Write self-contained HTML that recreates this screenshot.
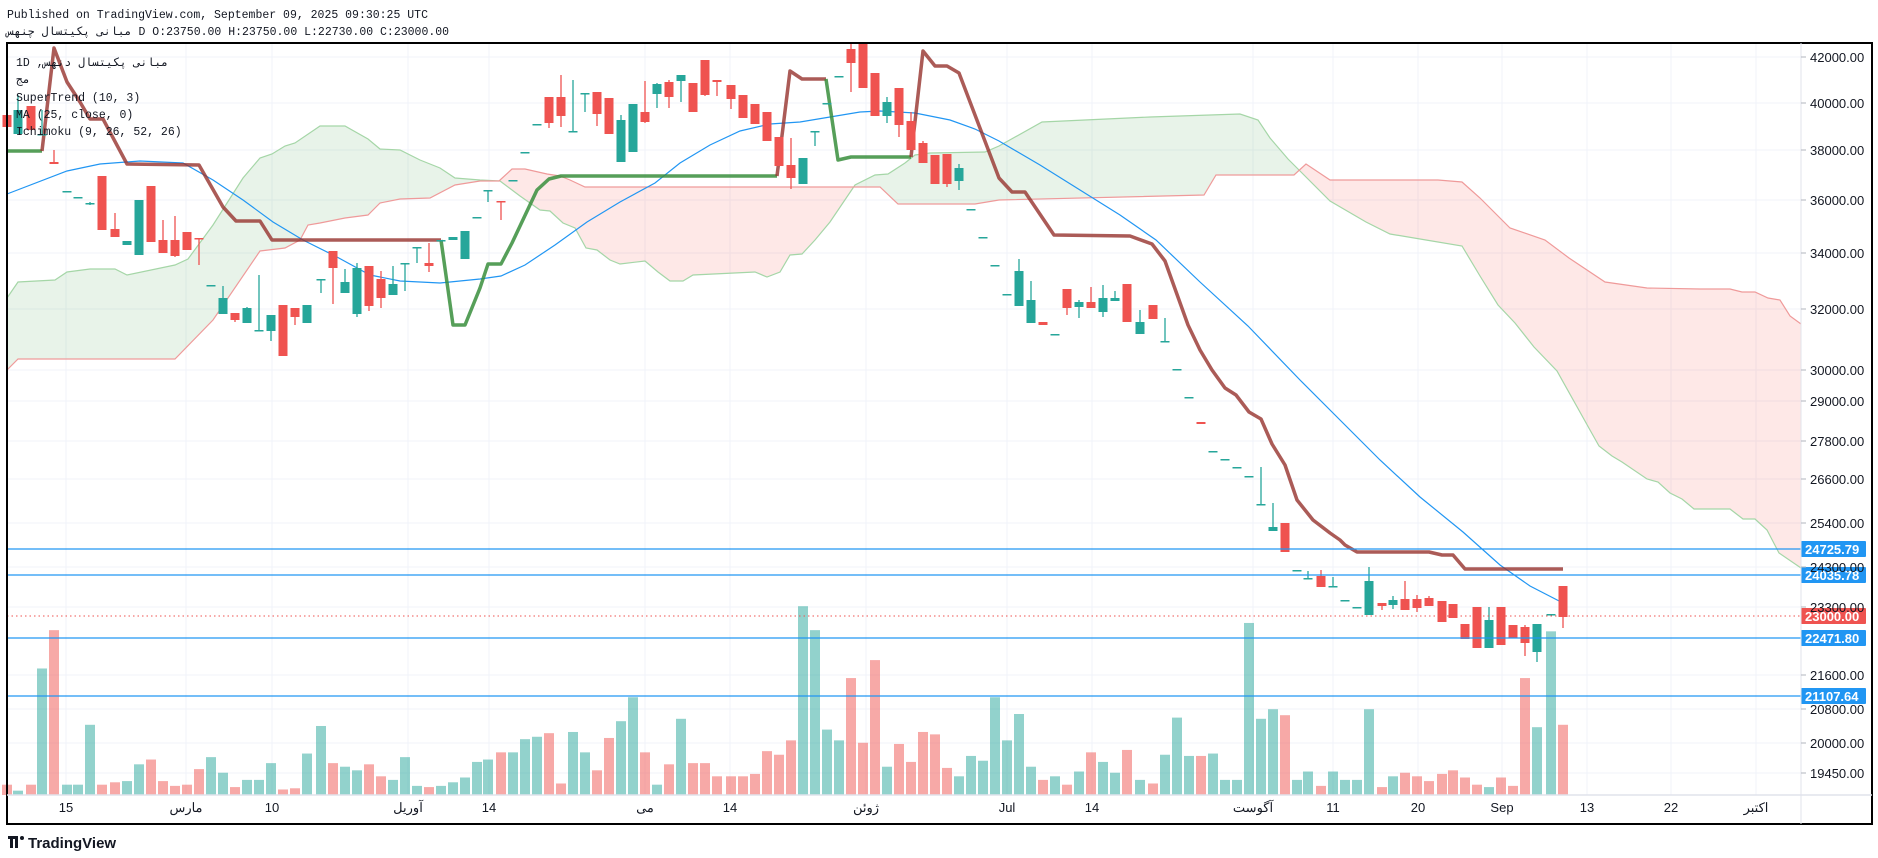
<!DOCTYPE html>
<html><head><meta charset="utf-8">
<style>
html,body{margin:0;padding:0;background:#fff;}
svg{display:block;}
text{font-family:"Liberation Sans","Noto Sans CJK SC",sans-serif;}
text.mono,.mono text{font-family:"Liberation Mono","DejaVu Sans Mono","Noto Sans CJK SC",monospace;}
</style></head>
<body>
<svg id="s" width="1878" height="858" viewBox="0 0 1878 858" xmlns="http://www.w3.org/2000/svg">
<rect x="0" y="0" width="1878" height="858" fill="#fff"/>
<g id="grid"></g>
<g id="cloud"></g>
<g id="vol"></g>
<g id="lines"></g>
<g id="candles"></g>
<g id="over"></g>
<rect x="7" y="43" width="1865" height="781" fill="none" stroke="#000" stroke-width="2"/>
<line x1="1801" y1="43" x2="1801" y2="824" stroke="#e0e3eb" stroke-width="1"/>
<line x1="7" y1="795" x2="1872" y2="795" stroke="#e0e3eb" stroke-width="1.5"/>
<text class="mono" x="7" y="18" font-size="11.5" fill="#131722">Published on TradingView.com, September 09, 2025 09:30:25 UTC</text>
<text class="mono" x="7" y="35" font-size="11.5" fill="#131722">مبانی    پکیتسال    چنهس D O:23750.00 H:23750.00 L:22730.00 C:23000.00</text>
<g class="mono" font-size="11.5" fill="#131722">
<text x="16" y="66">1D ,مبانی    پکیتسال    دنهس</text>
<text x="16" y="83">مج</text>
<text x="16" y="101">SuperTrend (10, 3)</text>
<text x="16" y="118">MA (25, close, 0)</text>
<text x="16" y="135">Ichimoku (9, 26, 52, 26)</text>
</g>
<g id="axis"></g>
<g transform="translate(8,836)">
<rect x="0" y="0" width="7" height="3" fill="#131722"/>
<rect x="2" y="0" width="3" height="12" fill="#131722"/>
<rect x="7" y="0" width="3" height="12" fill="#131722"/>
<circle cx="14" cy="2" r="2" fill="#131722"/>
<text x="20" y="12" font-size="15" font-weight="bold" fill="#131722">TradingView</text>
</g>
</svg>
<script>
(function(){
const NS="http://www.w3.org/2000/svg";
function el(p,t,a,txt){const e=document.createElementNS(NS,t);for(const k in a)e.setAttribute(k,a[k]);if(txt!==undefined)e.textContent=txt;document.getElementById(p).appendChild(e);return e;}
const priceLabels=[["42000.00",57],["40000.00",103],["38000.00",150],["36000.00",200],["34000.00",253],["32000.00",309],["30000.00",370],["29000.00",401],["27800.00",441],["26600.00",479],["25400.00",523],["24300.00",567],["23300.00",607],["21600.00",675],["20800.00",709],["20000.00",743],["19450.00",773]];
priceLabels.forEach(p=>{el("grid","line",{x1:7,y1:p[1],x2:1801,y2:p[1],stroke:"#f0f3fa","stroke-width":1});
el("axis","line",{x1:1801,y1:p[1],x2:1806,y2:p[1],stroke:"#b2b5be"});
el("axis","text",{x:1810,y:p[1]+5,"font-size":13,fill:"#131722"},p[0]);});
const dates=[["15",66],["مارس",186],["10",272],["آوریل",408],["14",489],["می",645],["14",730],["ژوئن",866],["Jul",1007],["14",1092],["آگوست",1253],["11",1333],["20",1418],["Sep",1502],["13",1587],["22",1671],["اکتبر",1756]];
dates.forEach(d=>{el("grid","line",{x1:d[1],y1:43,x2:d[1],y2:795,stroke:"#f0f3fa","stroke-width":1});
el("axis","text",{x:d[1],y:812,"font-size":13,fill:"#131722","text-anchor":"middle"},d[0]);});
const A=[[7,298],[18,282],[55,280],[67,272],[90,269],[115,269],[127,275],[175,265],[188,259],[213,225],[243,178],[260,158],[272,154],[285,146],[295,143],[320,126],[345,126],[368,139],[380,149],[400,150],[420,160],[440,168],[455,178],[480,180],[500,181],[520,196],[540,210],[550,211],[563,223],[575,228],[586,248],[597,250],[610,260],[620,264],[645,261],[658,272],[670,281],[683,281],[693,275],[755,272],[767,277],[780,272],[790,255],[802,254],[815,240],[830,222],[855,185],[875,175],[888,174],[905,163],[915,155],[930,153],[985,152],[999,146],[1042,122],[1150,117],[1240,114],[1258,120],[1270,138],[1288,159],[1297,168],[1330,201],[1366,222],[1390,234],[1426,240],[1462,246],[1480,276],[1498,305],[1515,323],[1534,347],[1557,371],[1590,430],[1599,446],[1612,456],[1622,462],[1647,479],[1658,482],[1670,493],[1682,499],[1694,509],[1730,509],[1743,519],[1755,519],[1767,530],[1779,553],[1801,568]];
const B=[[7,370],[18,359],[175,359],[213,320],[260,251],[285,248],[300,240],[308,225],[320,223],[345,218],[368,215],[380,203],[400,199],[430,198],[455,185],[480,181],[499,181],[512,169],[525,169],[547,174],[560,176],[570,180],[585,187],[880,187],[898,204],[975,204],[999,200],[1204,195],[1216,175],[1294,175],[1306,164],[1330,180],[1438,180],[1462,182],[1480,198],[1510,228],[1545,240],[1569,258],[1605,282],[1647,288],[1700,289],[1730,289],[1742,292],[1755,292],[1768,298],[1780,300],[1790,316],[1801,324]];
function ip(P,x){for(let i=1;i<P.length;i++){if(x<=P[i][0]){const a=P[i-1],b=P[i];const t=(x-a[0])/((b[0]-a[0])||1);return a[1]+t*(b[1]-a[1]);}}return P[P.length-1][1];}
let run=null,tp=[],bt=[];
function flush(){if(tp.length>1){const pts=tp.concat(bt.slice().reverse()).map(p=>p[0]+","+p[1].toFixed(1)).join(" ");el("cloud","polygon",{points:pts,fill:run?"rgba(67,160,71,0.12)":"rgba(244,67,54,0.12)"});}}
for(let x=7;x<=1801;x+=1){const a=ip(A,x),b=ip(B,x);const g=a<b;
if(run!==null&&g!==run){tp.push([x,a]);bt.push([x,b]);flush();tp=[];bt=[];}
run=g;tp.push([x,a]);bt.push([x,b]);}
flush();
el("cloud","polyline",{points:A.map(p=>p.join(",")).join(" "),fill:"none",stroke:"#a5d6a7","stroke-width":1.2});
el("cloud","polyline",{points:B.map(p=>p.join(",")).join(" "),fill:"none",stroke:"#ef9a9a","stroke-width":1.2});
const C=[[7,115,127,0,0,"r"],[18,110,134,95,134,"g"],[31,106,130,0,0,"r"],[42,134,135,110,135,"g"],[54,162,164,150,164,"r"],[67,191,192,0,0,"g"],[78,197,198,0,0,"g"],[90,203,204,202,205,"g"],[102,176,230,0,0,"r"],[115,229,237,213,237,"r"],[127,241,245,0,0,"g"],[139,200,255,0,0,"g"],[151,186,242,0,0,"r"],[163,240,253,220,253,"r"],[175,240,256,216,257,"r"],[187,232,250,0,0,"r"],[199,238,239,238,265,"r"],[211,285,286,0,0,"g"],[223,298,314,286,314,"g"],[235,313,320,313,322,"r"],[247,308,323,307,323,"g"],[259,330,331,275,331,"g"],[271,315,331,315,341,"g"],[283,305,356,0,0,"r"],[295,308,317,308,325,"r"],[307,305,323,0,0,"g"],[321,279,280,279,293,"g"],[333,251,268,251,304,"r"],[345,282,293,269,293,"g"],[357,268,314,263,317,"g"],[369,266,306,266,311,"r"],[381,279,298,271,308,"r"],[393,284,295,266,295,"g"],[405,263,264,263,291,"g"],[417,247,248,247,263,"g"],[429,263,266,243,272,"r"],[441,240,241,0,0,"g"],[453,237,240,0,0,"g"],[465,231,259,0,0,"g"],[477,217,218,0,0,"g"],
[488,190,191,190,202,"g"],[501,201,202,201,220,"r"],[513,180,181,0,0,"g"],[525,152,153,0,0,"g"],[537,124,125,0,0,"g"],[549,97,123,97,128,"r"],[561,97,116,75,127,"r"],[573,131,132,80,131,"g"],[585,93,94,93,112,"g"],[597,92,114,92,126,"r"],[609,98,134,0,0,"r"],[621,120,162,115,162,"g"],[633,104,152,0,0,"g"],[645,112,122,81,123,"r"],[657,84,94,83,108,"g"],[669,82,97,80,108,"r"],[681,75,81,75,102,"g"],[693,83,112,0,0,"r"],[705,60,95,60,96,"r"],[717,80,82,80,96,"r"],[731,85,99,85,109,"r"],[743,95,118,0,0,"r"],[755,104,124,0,0,"r"],[767,112,141,0,0,"r"],[779,137,166,0,0,"r"],[791,165,178,138,189,"r"],[803,158,184,0,0,"g"],[815,131,132,131,146,"g"],[827,103,104,0,0,"g"],[839,76,77,0,0,"g"],[851,49,63,43,92,"r"],[863,43,88,0,0,"r"],[875,73,116,0,0,"r"],[887,102,116,97,123,"g"],[899,88,125,88,137,"r"],[911,121,150,112,150,"r"],[923,143,163,141,163,"r"],[935,155,184,0,0,"r"],[947,154,184,154,187,"r"],[959,168,181,164,190,"g"],[971,209,210,0,0,"g"],[983,237,238,0,0,"g"],[995,265,266,0,0,"g"],
[1007,294,295,0,0,"g"],[1019,271,306,259,306,"g"],[1031,300,323,281,323,"g"],[1043,322,325,0,0,"r"],[1055,334,335,0,0,"g"],[1067,289,308,289,315,"r"],[1079,302,307,300,318,"g"],[1091,302,308,287,308,"r"],[1103,298,312,285,317,"g"],[1115,298,301,291,301,"g"],[1127,284,322,0,0,"r"],[1140,322,334,310,334,"g"],[1153,305,319,0,0,"r"],[1165,341,342,318,342,"g"],[1177,369,370,0,0,"g"],[1189,397,398,0,0,"g"],[1201,422,424,0,0,"r"],[1213,451,452,0,0,"g"],[1225,459,460,0,0,"g"],[1237,467,468,0,0,"g"],[1249,476,477,0,0,"g"],[1261,504,505,467,505,"g"],[1273,527,531,503,531,"g"],[1285,523,552,0,0,"r"],
[1297,570,571,0,0,"g"],[1308,578,579,571,579,"g"],[1321,576,587,570,587,"r"],[1333,586,587,577,587,"g"],[1345,600,601,0,0,"g"],[1357,607,608,0,0,"g"],[1369,581,615,567,615,"g"],[1382,603,606,603,610,"r"],[1393,600,605,596,609,"g"],[1405,599,610,581,610,"r"],[1417,599,608,595,612,"r"],[1429,598,606,596,606,"r"],[1442,601,622,0,0,"r"],[1453,604,618,0,0,"r"],[1465,624,639,0,0,"r"],[1477,607,648,0,0,"r"],[1489,620,648,607,648,"g"],[1501,607,645,0,0,"r"],[1513,625,638,0,0,"r"],[1525,627,643,625,656,"r"],[1537,624,652,624,662,"g"],[1551,614,615,0,0,"g"],[1563,586,617,586,628,"r"]];
const V=[655,660,655,558,526,655,655,605,655,653,652,638,634,652,656,655,642,632,645,657,651,651,637,659,658,629,606,637,640,643,638,648,651,632,656,657,656,653,649,636,634,628,628,617,615,612,654,611,628,643,616,602,582,628,655,638,600,637,637,648,648,648,646,627,630,618,506,526,609,618,566,620,551,640,621,636,611,613,641,648,631,635,582,618,596,640,651,648,655,644,628,636,645,626,651,654,630,599,631,631,629,651,651,520,600,592,597,651,644,656,644,651,651,592,657,648,645,648,652,646,643,649,655,657,649,656,566,607,527,605];
C.forEach((c,i)=>{const v=V[i];if(v!==undefined){const t=v*1.198;el("vol","rect",{x:c[0]-5,y:t,width:10,height:795-t,fill:c[5]=="g"?"rgba(38,166,154,0.5)":"rgba(239,83,80,0.5)"});}});
C.forEach(c=>{const col=c[5]=="g"?"#26a69a":"#ef5350";
if(c[3]){el("candles","line",{x1:c[0],y1:c[3],x2:c[0],y2:c[4],stroke:col,"stroke-width":1.3});}
el("candles","rect",{x:c[0]-4.5,y:c[1],width:9,height:Math.max(1.5,c[2]-c[1]),fill:col});});
const MA=[[7,194],[67,171],[100,164],[140,161],[183,163],[213,180],[243,200],[273,222],[303,240],[337,257],[370,275],[400,281],[440,283],[480,279],[501,276],[525,265],[555,245],[587,222],[620,202],[655,183],[680,163],[710,145],[740,131],[770,124],[800,122],[830,117],[860,112],[880,111],[915,113],[950,120],[975,129],[999,141],[1040,165],[1080,190],[1120,215],[1156,240],[1200,282],[1248,326],[1300,380],[1340,420],[1380,460],[1420,497],[1463,532],[1500,565],[1530,586],[1563,603]];
el("lines","polyline",{points:MA.map(p=>p.join(",")).join(" "),fill:"none",stroke:"#2196f3","stroke-width":1.2});
const red="rgba(150,50,45,0.8)",grn="rgba(56,142,60,0.85)";
const ST=[
[grn,[[7,151],[42,151]]],
[red,[[42,151],[54,48],[67,82],[80,102],[90,119],[103,119],[127,164],[199,165],[223,207],[236,221],[260,221],[272,240],[441,240]]],
[grn,[[441,240],[453,325],[465,325],[480,288],[488,264],[501,264],[512,243],[537,190],[549,179],[561,176],[777,176]]],
[red,[[777,176],[790,71],[802,79],[826,79]]],
[grn,[[826,79],[838,160],[851,157],[911,157]]],
[red,[[911,157],[923,51],[935,66],[947,66],[959,73],[999,178],[1012,192],[1025,192],[1054,235],[1130,236],[1152,244],[1165,261],[1188,325],[1200,350],[1212,370],[1225,388],[1236,395],[1249,412],[1261,419],[1272,444],[1285,465],[1297,500],[1313,520],[1330,533],[1340,540],[1345,545],[1357,552],[1429,552],[1442,555],[1453,555],[1465,569],[1563,569]]]];
ST.forEach(s=>el("lines","polyline",{points:s[1].map(p=>p.join(",")).join(" "),fill:"none",stroke:s[0],"stroke-width":3.5,"stroke-linejoin":"round"}));
[[549,"24725.79"],[575,"24035.78"],[638,"22471.80"],[696,"21107.64"]].forEach(h=>{
el("over","line",{x1:7,y1:h[0],x2:1801,y2:h[0],stroke:"#2196f3","stroke-width":1.3});
el("over","rect",{x:1801,y:h[0]-8,width:65,height:16,rx:1,fill:"#2196f3"});
el("over","text",{x:1805,y:h[0]+5,"font-size":13,"font-weight":"bold",fill:"#fff"},h[1]);});
el("over","line",{x1:7,y1:616,x2:1801,y2:616,stroke:"#ef5350","stroke-width":1,"stroke-dasharray":"1.5,3"});
el("over","rect",{x:1801,y:608,width:65,height:16,rx:1,fill:"#ef5350"});
el("over","text",{x:1805,y:621,"font-size":13,"font-weight":"bold",fill:"#fff"},"23000.00");
})();
</script>
</body></html>
